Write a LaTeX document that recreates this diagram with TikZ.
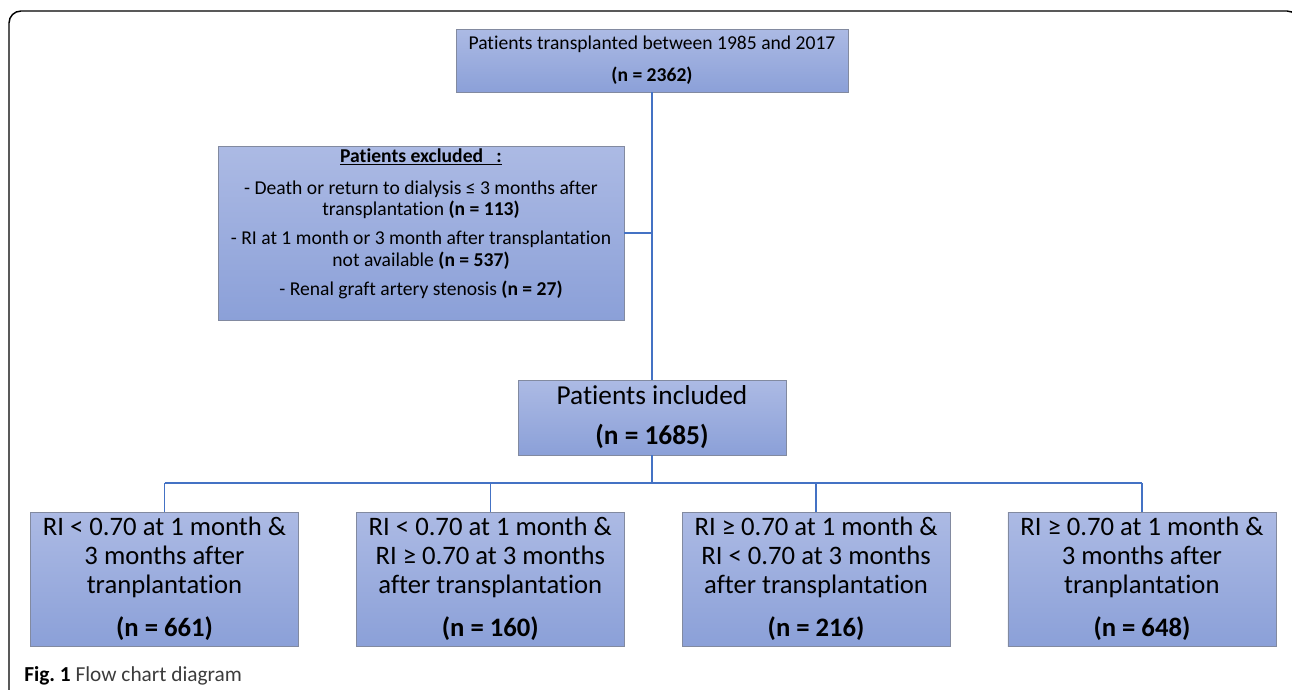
\documentclass[tikz,border=0pt]{standalone}
\usepackage{fontspec}
\setmainfont[Ligatures=NoCommon]{Carlito}
\usetikzlibrary{positioning}
\definecolor{linkblue}{RGB}{68,114,196}
\definecolor{boxtop}{RGB}{172,186,228}
\definecolor{boxbottom}{RGB}{139,160,216}
\definecolor{boxline}{RGB}{130,138,160}
\definecolor{captiongray}{RGB}{60,60,60}

\begin{document}
\begin{tikzpicture}[x=0.75pt, y=-0.75pt,
    box/.style={draw=boxline, line width=0.6pt, rectangle, top color=boxtop, bottom color=boxbottom, align=center, inner sep=0pt},
    group/.style={box, minimum width=201pt, minimum height=100.5pt, font=\fontsize{20}{21.75}\selectfont},
    link/.style={draw=linkblue, line width=1.1pt}]
    \useasboundingbox (0,0) rectangle (1292,689);
    \clip (0,0) rectangle (1292,689);

    % page frame
    \draw[line width=1.1pt, rounded corners=9pt] (9,720) -- (9,11) -- (1299,11) -- (1299,720);

    \node[box, minimum width=294pt, minimum height=47.25pt, font=\fontsize{14.7}{16}\selectfont] (transplanted) at (652,60.5) {Patients transplanted between 1985 and 2017\\[8pt]\textbf{(n = 2362)}};

    \node[box, minimum width=304.5pt, minimum height=130.5pt] (excluded) at (421,233) {};
    \node[align=center, anchor=north, inner sep=0pt, font=\fontsize{14.7}{16}\selectfont] (excluded_text) at (421,148) {\underline{\textbf{Patients excluded\ \ \ :}}\\[8pt]
        - Death or return to dialysis ≤ 3 months after\\ transplantation \textbf{(n = 113)}\\[6pt]
        - RI at 1 month or 3 month after transplantation\\ not available \textbf{(n = 537)}\\[6pt]
        - Renal graft artery stenosis \textbf{(n = 27)}};

    \node[box, minimum width=201pt, minimum height=56.25pt, font=\fontsize{20.5}{23}\selectfont] (included) at (652,417.5) {Patients included\\[7pt]\textbf{(n = 1685)}};

    \node[group] (group_a) at (164.5,579) {RI < 0.70 at 1 month \&\\ 3 months after\\ tranplantation\\[10.5pt]\textbf{(n = 661)}};
    \node[group] (group_b) [right=42.75pt of group_a] {RI < 0.70 at 1 month \&\\ RI ≥ 0.70 at 3 months\\ after transplantation\\[10.5pt]\textbf{(n = 160)}};
    \node[group] (group_c) [right=42.75pt of group_b] {RI ≥ 0.70 at 1 month \&\\ RI < 0.70 at 3 months\\ after transplantation\\[10.5pt]\textbf{(n = 216)}};
    \node[group] (group_d) [right=42.75pt of group_c] {RI ≥ 0.70 at 1 month \&\\ 3 months after\\ tranplantation\\[10.5pt]\textbf{(n = 648)}};

    \coordinate (split) at (652,483);
    \draw[link] (transplanted.south) -- (included.north);
    \draw[link] (excluded.east) -- (excluded.east -| transplanted.south);
    \draw[link] (included.south) -- (split);
    \draw[link] (split -| group_a.north) -- (split -| group_d.north);
    \foreach \g in {group_a, group_b, group_c, group_d}
        \draw[link] (split -| \g.north) -- (\g.north);

    \node[anchor=base west, inner sep=0pt, font=\fontsize{16}{18}\selectfont] (caption) at (24,681) {\textbf{Fig.\ 1} \textcolor{captiongray}{Flow chart diagram}};
\end{tikzpicture}
\end{document}
